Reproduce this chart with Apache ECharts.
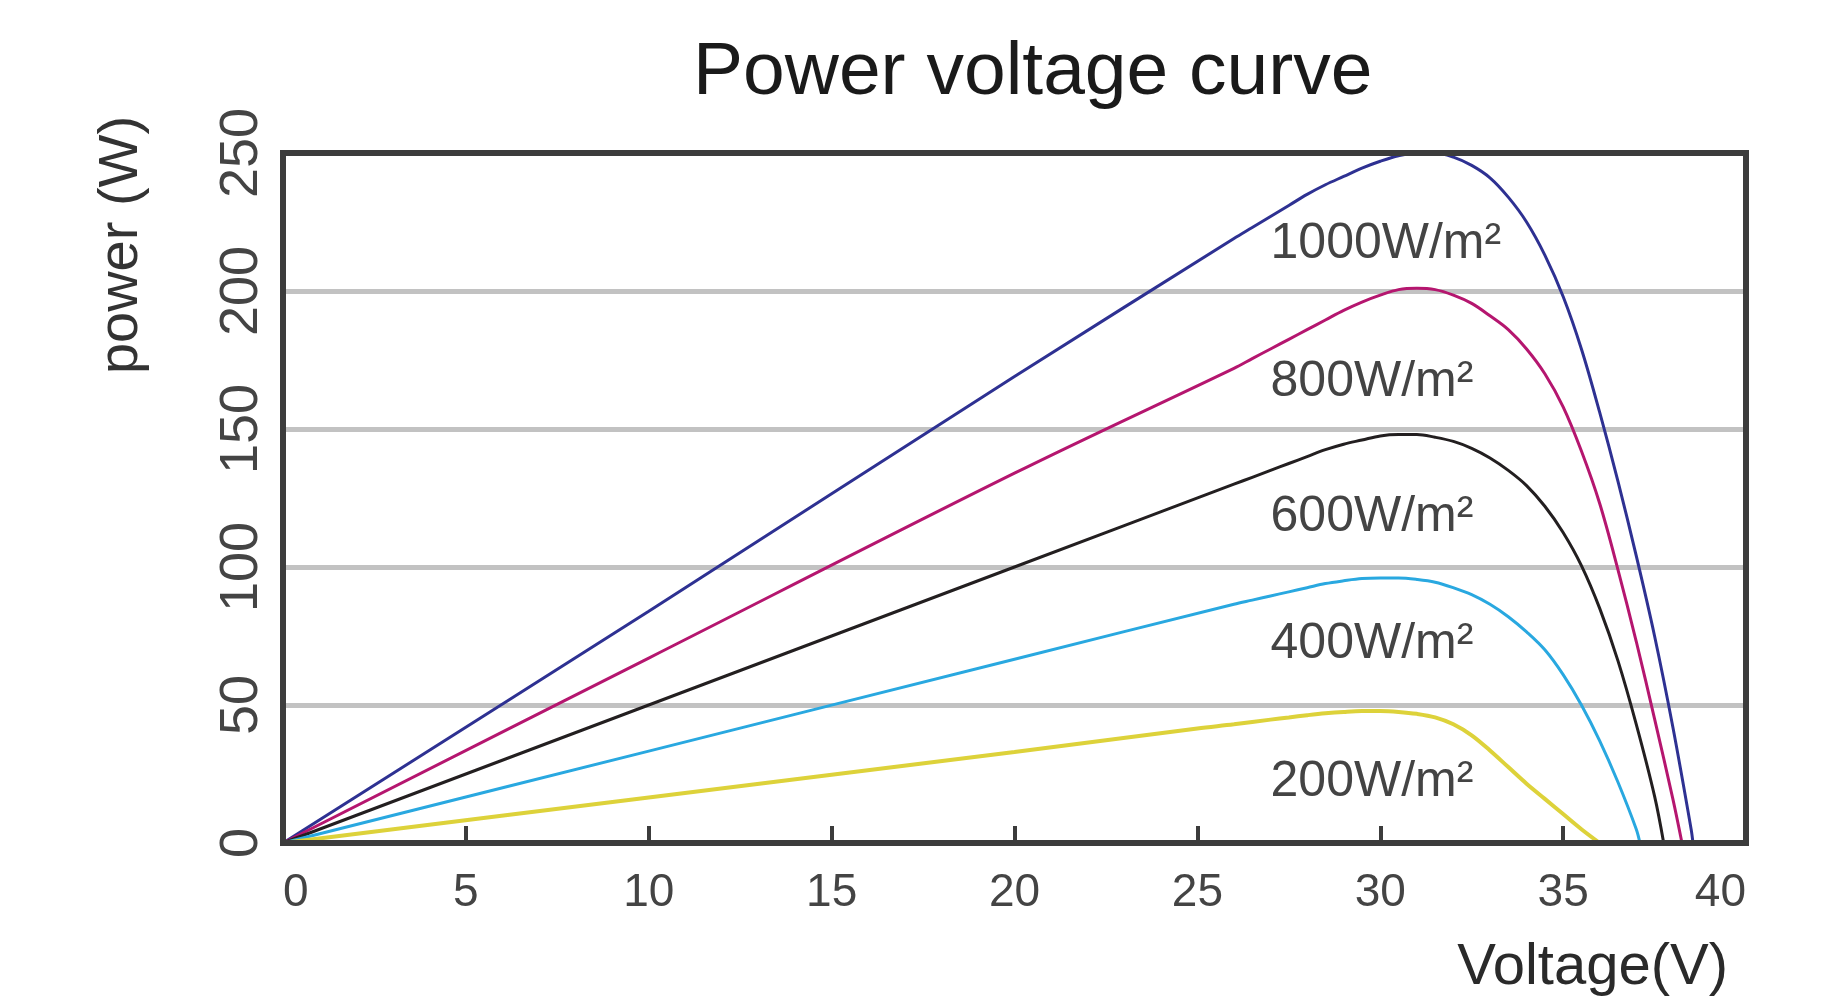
<!DOCTYPE html>
<html>
<head>
<meta charset="utf-8">
<script src="https://cdn.jsdelivr.net/npm/echarts@6/dist/echarts.min.js"></script>
<style>
html,body{margin:0;padding:0;background:#ffffff;}
#chart{width:1833px;height:1004px;}
</style>
</head>
<body>
<div id="chart"></div>
<script>
// ---- data (Voltage V, Power W) ----
const xTickLabels = ['0','5','10','15','20','25','30','35','40'];
const yTickLabels = ['0','50','100','150','200','250'];
const seriesNames = ['1000W/m²','800W/m²','600W/m²','400W/m²','200W/m²'];

const p1000 = [[0,0],[10,84],[20,169],[26,219],[26.5,223],[27,227],[27.5,231],[28,235],[28.5,238.5],[29,241.5],[29.5,244.5],[30,247],[30.5,249],[31,250],[31.5,250],[32,248.5],[32.5,245.5],[33,241],[33.5,234],[34,225],[34.5,213],[35,198],[35.5,179],[36,156],[36.5,131],[37,104],[37.5,75],[38,42],[38.5,5],[38.55,0]];
const p800  = [[0,0],[10,67],[20,134],[26,172],[26.5,175.5],[27,179],[27.5,182.5],[28,186],[28.5,189.5],[29,193],[29.5,196],[30,198.5],[30.5,200.5],[31,201],[31.5,200.5],[32,198.5],[32.5,195.5],[33,191],[33.5,186],[34,179],[34.5,170],[35,158],[35.5,142],[36,123],[36.5,99],[37,73],[37.5,45],[38,16],[38.25,0]];
const p600  = [[0,0],[10,50],[20,100],[26,130],[26.5,132.5],[27,135],[27.5,137.5],[28,140],[28.5,142.5],[29,144.5],[29.5,146],[30,147.5],[30.5,148],[31,148],[31.5,147],[32,145.5],[32.5,143],[33,139.5],[33.5,135],[34,129.5],[34.5,122],[35,112.5],[35.5,100.5],[36,85],[36.5,66],[37,43],[37.5,17],[37.75,0]];
const p400  = [[0,0],[10,33.3],[20,66.6],[26,86.5],[26.5,88],[27,89.5],[27.5,91],[28,92.5],[28.5,94],[29,95],[29.5,95.8],[30,96],[30.5,96],[31,95.5],[31.5,94.5],[32,92.5],[32.5,90],[33,86.5],[33.5,82],[34,76.5],[34.5,70],[35,61],[35.5,50],[36,37],[36.5,22],[37,5],[37.1,0]];
const p200  = [[0,0],[10,16.5],[20,33],[25,41.5],[26,43],[27,44.7],[27.5,45.5],[28,46.3],[28.5,47],[29,47.5],[29.5,47.8],[30,47.8],[30.5,47.5],[31,46.8],[31.5,45.5],[32,43],[32.5,39],[33,33.5],[33.5,27.5],[34,21.5],[34.5,16],[35,10.5],[35.5,5],[36,0]];

const seriesData = [p1000, p800, p600, p400, p200];
const seriesColors = ['#2e3192','#b5166f','#231f20','#29a8e0','#ddd23a'];
const labelAnchor = [[27.0,217],[27.0,167],[27.0,118],[27.0,72],[27.0,22]];

const chart = echarts.init(document.getElementById('chart'));
const FONT = 'Liberation Sans, Arial, sans-serif';

const option = {
  backgroundColor: '#ffffff',
  animation: false,
  title: {
    text: 'Power voltage curve',
    left: 688,
    top: 31,
    textStyle: {fontSize: 75, fontWeight: 'normal', color: '#1a1a1a', fontFamily: FONT}
  },
  grid: {
    left: 283, right: 87, top: 153, bottom: 161,
    show: true, borderColor: '#3c3c3c', borderWidth: 6,
    backgroundColor: 'transparent', z: 3
  },
  xAxis: {
    type: 'value', min: 0, max: 40, interval: 5,
    axisLine: {show: false},
    axisTick: {show: true, inside: true, length: 17, lineStyle: {color: '#3c3c3c', width: 4}},
    axisLabel: {
      fontSize: 46, color: '#444', fontFamily: FONT, margin: 27,
      alignMinLabel: 'left', alignMaxLabel: 'right',
      formatter: function (v) { return xTickLabels[Math.round(v / 5)]; }
    },
    splitLine: {show: false}
  },
  yAxis: {
    type: 'value', min: 0, max: 250, interval: 50,
    axisLine: {show: false},
    axisTick: {show: false},
    axisLabel: {
      rotate: 90, fontSize: 54, color: '#444', fontFamily: FONT, margin: 14,
      formatter: function (v) { return yTickLabels[Math.round(v / 50)]; }
    },
    splitLine: {show: true, lineStyle: {color: '#c2c2c2', width: 5}}
  },
  graphic: [
    {
      type: 'text', x: 122, y: 245, rotation: Math.PI / 2,
      style: {text: 'power (W)', fontSize: 56, fontFamily: FONT, fill: '#333', textAlign: 'center', textVerticalAlign: 'middle'}
    },
    {
      type: 'text', x: 1728, y: 968,
      style: {text: 'Voltage(V)', fontSize: 58, fontFamily: FONT, fill: '#2a2a2a', textAlign: 'right', textVerticalAlign: 'middle'}
    }
  ],
  series: seriesData.map(function (d, i) {
    return {
      name: seriesNames[i],
      type: 'line',
      data: d,
      showSymbol: false,
      smooth: 0.35,
      lineStyle: {color: seriesColors[i], width: i === 4 ? 4 : 3},
      z: 2,
      markPoint: {
        symbol: 'circle', symbolSize: 0, silent: true,
        label: {
          show: true, position: 'inside', align: 'left', verticalAlign: 'middle',
          fontSize: 50, color: '#444', fontFamily: FONT,
          formatter: seriesNames[i]
        },
        data: [{coord: labelAnchor[i]}]
      }
    };
  })
};
chart.setOption(option);
</script>
</body>
</html>
